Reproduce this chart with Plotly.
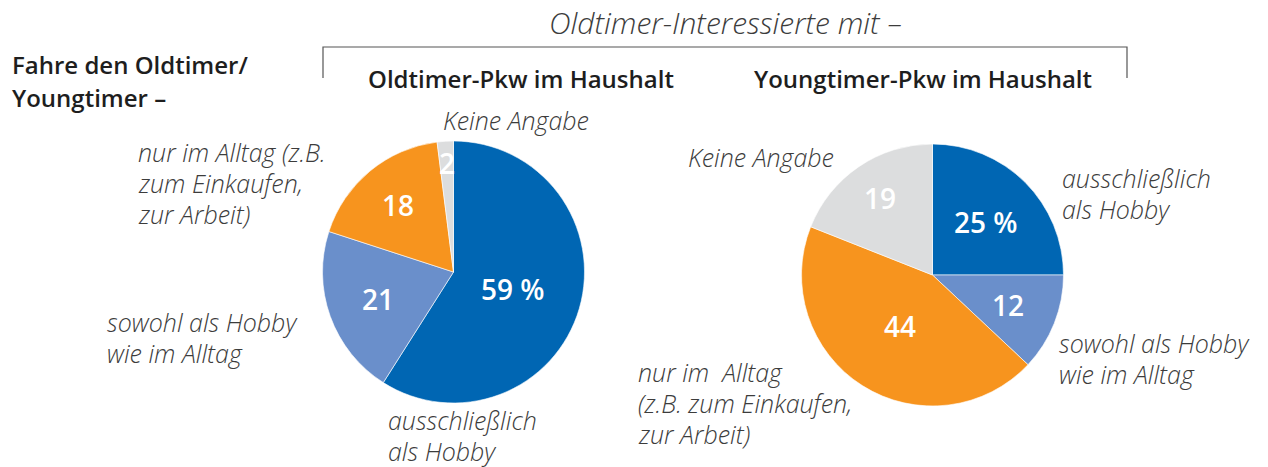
import math
import plotly.graph_objects as go

W, H = 1268, 467

BLAU = "#0066B3"
HELLBLAU = "#6A8FCB"
ORANGE = "#F7941E"
GRAU = "#DCDDDE"
TEXT = "#3C3C3C"
DUNKEL = "#1E1E1E"
FONT = "Open Sans"

# Daten
kategorien = ["ausschließlich als Hobby", "sowohl als Hobby wie im Alltag",
              "nur im Alltag", "Keine Angabe"]
oldtimer_werte = [59, 21, 18, 2]
youngtimer_werte = [25, 12, 44, 19]
oldtimer_texte = ["59 %", "21", "18", "2"]
youngtimer_texte = ["25 %", "12", "44", "19"]
farben = [BLAU, HELLBLAU, ORANGE, GRAU]

# Pie-Bereiche (paper)
dom_links = dict(x=[322 / W, 585 / W], y=[1 - 403 / H, 1 - 141 / H])
dom_rechts = dict(x=[801 / W, 1064 / W], y=[1 - 406 / H, 1 - 144 / H])

# radiale Position der Zahlen (Anteil am Radius)
r_links = [0.47, 0.61, 0.66, 0.83]
r_rechts = [0.57, 0.62, 0.46, 0.71]

fig = go.Figure()

for werte, dom in [(oldtimer_werte, dom_links), (youngtimer_werte, dom_rechts)]:
    fig.add_trace(go.Pie(
        labels=kategorien, values=werte, domain=dom,
        sort=False, direction="clockwise", rotation=0,
        marker=dict(colors=farben, line=dict(color="white", width=0.6)),
        textinfo="none", hoverinfo="label+value", showlegend=False,
    ))


def zahl_labels(werte, texte, dom, rfrac):
    cx = (dom["x"][0] + dom["x"][1]) / 2
    cy = (dom["y"][0] + dom["y"][1]) / 2
    radius = min((dom["x"][1] - dom["x"][0]) * W, (dom["y"][1] - dom["y"][0]) * H) / 2
    total = sum(werte)
    kum = 0
    for v, t, rf in zip(werte, texte, rfrac):
        mitte = (kum + v / 2) / total * 2 * math.pi
        kum += v
        r = radius * rf
        fig.add_annotation(
            x=cx + r * math.sin(mitte) / W, y=cy + r * math.cos(mitte) / H,
            xref="paper", yref="paper", text=t, showarrow=False,
            xanchor="center", yanchor="middle",
            font=dict(family=FONT, size=28, color="white", weight=600),
        )


zahl_labels(oldtimer_werte, oldtimer_texte, dom_links, r_links)
zahl_labels(youngtimer_werte, youngtimer_texte, dom_rechts, r_rechts)

kursiv = dict(family=FONT, size=25, color=TEXT, style="italic", weight=300)


def label(zeilen, x, y, abstand=31, xanchor="left", font=kursiv):
    # jede Zeile einzeln, damit der Zeilenabstand passt
    for i, z in enumerate(zeilen):
        fig.add_annotation(
            x=x / W, y=1 - (y + i * abstand) / H, xref="paper", yref="paper",
            text=z, showarrow=False, xanchor=xanchor, yanchor="middle",
            font=font,
        )


# Beschriftungen links
label(["Keine Angabe"], 441, 120)
label(["nur im Alltag (z.B.", "zum Einkaufen,", "zur Arbeit)"], 136, 152)
label(["sowohl als Hobby", "wie im Alltag"], 105, 322)
label(["ausschließlich", "als Hobby"], 386, 420)

# Beschriftungen rechts
label(["Keine Angabe"], 686, 157)
label(["ausschließlich", "als Hobby"], 1060, 178)
label(["sowohl als Hobby", "wie im Alltag"], 1057, 343)
label(["nur im  Alltag", "(z.B. zum Einkaufen,", "zur Arbeit)"], 636, 372)

# Überschriften
fett = dict(family=FONT, size=24, color=DUNKEL, weight=600)
label(["Oldtimer-Interessierte mit –"], 725, 22, xanchor="center",
      font=dict(family=FONT, size=30, color=TEXT, style="italic", weight=300))
label(["Oldtimer-Pkw im Haushalt"], 521, 78, xanchor="center", font=fett)
label(["Youngtimer-Pkw im Haushalt"], 923, 78, xanchor="center", font=fett)
label(["Fahre den Oldtimer/", "Youngtimer –"], 10, 64, abstand=33, font=fett)

# Klammer
fig.add_shape(type="path", xref="paper", yref="paper",
              path=f"M {323 / W} {1 - 78 / H} L {323 / W} {1 - 47 / H} "
                   f"L {1127 / W} {1 - 47 / H} L {1127 / W} {1 - 78 / H}",
              line=dict(color="#555555", width=1.2))

fig.update_layout(
    width=W, height=H,
    margin=dict(t=0, b=0, l=0, r=0),
    paper_bgcolor="white", plot_bgcolor="white",
)

fig.write_html("out.html", config={"displayModeBar": False},
               post_script="document.body.style.margin='0';")
